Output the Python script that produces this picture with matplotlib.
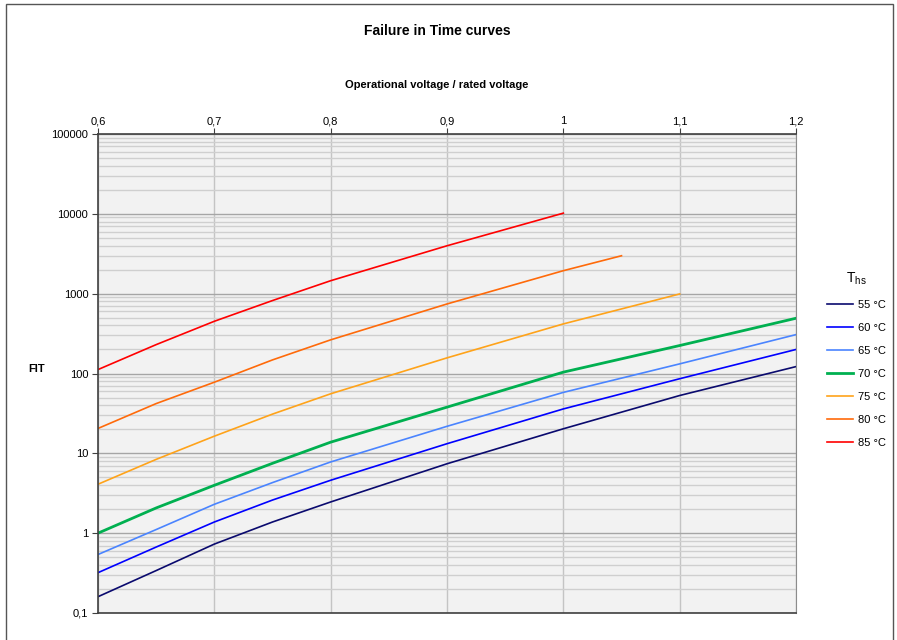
import numpy as np
import matplotlib
matplotlib.use('Agg')
import matplotlib.pyplot as plt
from matplotlib.patches import Rectangle

plt.rcParams['font.family'] = ['Liberation Sans', 'DejaVu Sans']

# values (FIT vs U/Ur)
x_full = [0.6, 0.65, 0.7, 0.75, 0.8, 0.9, 1.0, 1.1, 1.2]
fit_55 = [0.16, 0.34, 0.73, 1.38, 2.46, 7.4, 20.3, 53, 122]
fit_60 = [0.32, 0.67, 1.38, 2.60, 4.6, 13.2, 36, 86, 200]
fit_65 = [0.54, 1.11, 2.30, 4.3, 7.8, 21.8, 58, 132, 307]
fit_70 = [1.0, 2.07, 3.98, 7.5, 13.8, 37.9, 104, 224, 492]
x_75 = [0.6, 0.65, 0.7, 0.75, 0.8, 0.9, 1.0, 1.1]
fit_75 = [4.1, 8.4, 16.4, 31, 55.7, 157, 418, 992]
x_80 = [0.6, 0.65, 0.7, 0.75, 0.8, 0.9, 1.0, 1.05]
fit_80 = [20.5, 42, 77.8, 148, 264, 743, 1940, 2985]
x_85 = [0.6, 0.65, 0.7, 0.75, 0.8, 0.9, 1.0]
fit_85 = [112, 230, 451, 820, 1453, 3981, 10200]

series = [
    ('55 °C', x_full, fit_55, '#0a0a6e', 1.2),
    ('60 °C', x_full, fit_60, '#0000ff', 1.2),
    ('65 °C', x_full, fit_65, '#4a84ff', 1.2),
    ('70 °C', x_full, fit_70, '#00b050', 2.0),
    ('75 °C', x_75, fit_75, '#ffa31a', 1.2),
    ('80 °C', x_80, fit_80, '#ff6a0a', 1.2),
    ('85 °C', x_85, fit_85, '#ff0000', 1.2),
]

xticks = [0.6, 0.7, 0.8, 0.9, 1.0, 1.1, 1.2]
xlabels = ['0,6', '0,7', '0,8', '0,9', '1', '1,1', '1,2']
yticks = [0.1, 1, 10, 100, 1000, 10000, 100000]
ylabels = ['0,1', '1', '10', '100', '1000', '10000', '100000']

fig = plt.figure(figsize=(8.97, 6.4), dpi=100)
ax = fig.add_axes([98/897, 1-613/640, (796-98)/897, (613-134)/640])
ax.set_facecolor('#f2f2f2')

# outer frame
fig.patches.append(Rectangle((6/897, -0.05), (893-6)/897, 1.05-4/640,
                             transform=fig.transFigure, fill=False,
                             edgecolor='#555555', linewidth=1.0))

for lab, xs, ys, col, lw in series:
    ax.plot(xs, ys, color=col, linewidth=lw, label=lab,
            solid_joinstyle='round')

ax.set_yscale('log')
ax.set_xlim(0.6, 1.2)
ax.set_ylim(0.1, 100000)
ax.set_xticks(xticks)
ax.set_xticklabels(xlabels)
ax.set_yticks(yticks)
ax.set_yticklabels(ylabels)
ax.xaxis.tick_top()
ax.tick_params(axis='both', labelsize=8, length=4, color='#404040', pad=3)
ax.tick_params(axis='x', pad=1.5)
ax.tick_params(axis='y', which='minor', length=0)

ax.grid(True, which='major', axis='y', color='#a6a6a6', linewidth=1.0)
ax.grid(True, which='minor', axis='y', color='#cfcfcf', linewidth=1.0)
ax.grid(True, which='major', axis='x', color='#c4c4c4', linewidth=1.0)
ax.set_axisbelow(True)

for s in ['left', 'top', 'bottom']:
    ax.spines[s].set_color('#404040')
    ax.spines[s].set_linewidth(1.2)
ax.spines['right'].set_color('#8c8c8c')

fig.text(437/897, 1-31/640, 'Failure in Time curves', ha='center', va='center',
         fontsize=10, fontweight='bold')
fig.text(437/897, 1-85/640, 'Operational voltage / rated voltage', ha='center',
         va='center', fontsize=8, fontweight='bold')
fig.text(37/897, 1-369/640, 'FIT', ha='center', va='center', fontsize=8,
         fontweight='bold')

handles, labels = ax.get_legend_handles_labels()
leg = fig.legend(handles, labels, loc='upper left',
                 bbox_to_anchor=(817/897, 1-261/640), frameon=False,
                 fontsize=8, handlelength=2.3, handletextpad=0.5,
                 labelspacing=1.17, title='T$_\\mathregular{hs}$',
                 title_fontsize=10)
leg._legend_box.sep = 9

fig.savefig('out.png', dpi=100)
